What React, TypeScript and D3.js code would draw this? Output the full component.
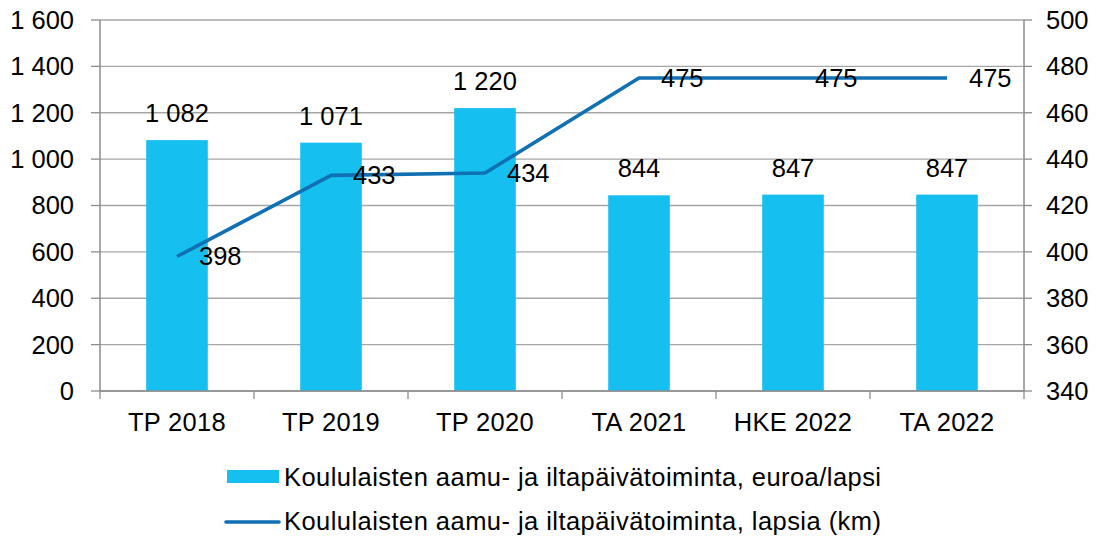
import React from 'react';
import * as d3 from 'd3';

const categories = ['TP 2018', 'TP 2019', 'TP 2020', 'TA 2021', 'HKE 2022', 'TA 2022'];
const euroValues = [1082, 1071, 1220, 844, 847, 847];
const childValues = [398, 433, 434, 475, 475, 475];
const leftTicks = [0, 200, 400, 600, 800, 1000, 1200, 1400, 1600];
const rightTicks = [340, 360, 380, 400, 420, 440, 460, 480, 500];
const legendLabels = [
  'Koululaisten aamu- ja iltapäivätoiminta, euroa/lapsi',
  'Koululaisten aamu- ja iltapäivätoiminta, lapsia (km)',
];

const W = 1097;
const H = 538;
const margin = { top: 20, right: 73, bottom: 147, left: 100 };
const FONT = '"Liberation Sans", Arial, sans-serif';
const barColor = '#15bff0';
const lineColor = '#0f70b3';
const gridColor = '#a6a6a6';
const axisColor = '#8c8c8c';

const fmt = (v: number) => {
  const s = String(v);
  return s.length > 3 ? s.slice(0, s.length - 3) + ' ' + s.slice(-3) : s;
};

export default function App() {
  const width = W - margin.left - margin.right;
  const height = H - margin.top - margin.bottom;

  const x = d3.scaleBand().domain(categories).range([0, width]).paddingInner(0.6).paddingOuter(0.3);
  const xStep = d3.scaleBand().domain(categories).range([0, width]);
  const yL = d3.scaleLinear().domain([0, 1600]).range([height, 0]);
  const yR = d3.scaleLinear().domain([340, 500]).range([height, 0]);

  const line = d3
    .line<number>()
    .x((d, i) => (xStep(categories[i]) as number) + xStep.bandwidth() / 2)
    .y((d) => yR(d));

  const fs = 25.5;

  return (
    <svg width={W} height={H} style={{ position: 'absolute', left: 0, top: 0, background: '#fff' }} fontFamily={FONT}>
      <g transform={`translate(${margin.left},${margin.top})`}>
        {/* gridlines */}
        {leftTicks.map((t) => (
          <line key={'g' + t} x1={0} x2={width} y1={yL(t)} y2={yL(t)} stroke={gridColor} strokeWidth={1.3} />
        ))}
        {/* bars */}
        {euroValues.map((v, i) => (
          <rect
            key={'b' + i}
            x={x(categories[i])}
            y={yL(v)}
            width={x.bandwidth()}
            height={height - yL(v)}
            fill={barColor}
          />
        ))}
        {/* axes */}
        <line x1={0} x2={0} y1={0} y2={height} stroke={axisColor} strokeWidth={1.5} />
        <line x1={width} x2={width} y1={0} y2={height} stroke={axisColor} strokeWidth={1.5} />
        <line x1={0} x2={width} y1={height} y2={height} stroke={axisColor} strokeWidth={1.5} />
        {leftTicks.map((t) => (
          <g key={'l' + t}>
            <line x1={-9} x2={0} y1={yL(t)} y2={yL(t)} stroke={axisColor} strokeWidth={1.3} />
            <text x={-26} y={yL(t)} dy="0.35em" textAnchor="end" fontSize={fs} fill="#000">
              {fmt(t)}
            </text>
          </g>
        ))}
        {rightTicks.map((t) => (
          <g key={'r' + t}>
            <line x1={width} x2={width + 8} y1={yR(t)} y2={yR(t)} stroke={axisColor} strokeWidth={1.3} />
            <text x={width + 22} y={yR(t)} dy="0.35em" textAnchor="start" fontSize={fs} fill="#000">
              {t}
            </text>
          </g>
        ))}
        {categories.map((c, i) => (
          <line
            key={'t' + i}
            x1={xStep(c) as number}
            x2={xStep(c) as number}
            y1={height}
            y2={height + 8}
            stroke={axisColor}
            strokeWidth={1.3}
          />
        ))}
        <line x1={width} x2={width} y1={height} y2={height + 8} stroke={axisColor} strokeWidth={1.3} />
        {categories.map((c) => (
          <text
            key={'c' + c}
            x={(xStep(c) as number) + xStep.bandwidth() / 2}
            y={height + 31}
            dy="0.35em"
            textAnchor="middle"
            fontSize={fs}
            letterSpacing={0.3}
            fill="#000"
          >
            {c}
          </text>
        ))}
        {/* line */}
        <path d={line(childValues) || ''} fill="none" stroke={lineColor} strokeWidth={3.6} strokeLinejoin="round" />
        {/* bar labels */}
        {euroValues.map((v, i) => (
          <text
            key={'bl' + i}
            x={(x(categories[i]) as number) + x.bandwidth() / 2}
            y={yL(v) - 27}
            dy="0.35em"
            textAnchor="middle"
            fontSize={fs}
            fill="#000"
          >
            {fmt(v)}
          </text>
        ))}
        {/* line labels */}
        {childValues.map((v, i) => (
          <text
            key={'ll' + i}
            x={(xStep(categories[i]) as number) + xStep.bandwidth() / 2 + 22}
            y={yR(v)}
            dy="0.35em"
            textAnchor="start"
            fontSize={fs}
            fill="#000"
          >
            {v}
          </text>
        ))}
      </g>
      {/* legend */}
      <rect x={227} y={470} width={52} height={13} fill={barColor} />
      <text x={284} y={477} dy="0.35em" fontSize={fs} letterSpacing={0.45} fill="#000">
        {legendLabels[0]}
      </text>
      <line x1={226} x2={279} y1={522} y2={522} stroke={lineColor} strokeWidth={3.6} strokeLinecap="round" />
      <text x={284} y={521} dy="0.35em" fontSize={fs} letterSpacing={0.45} fill="#000">
        {legendLabels[1]}
      </text>
    </svg>
  );
}
